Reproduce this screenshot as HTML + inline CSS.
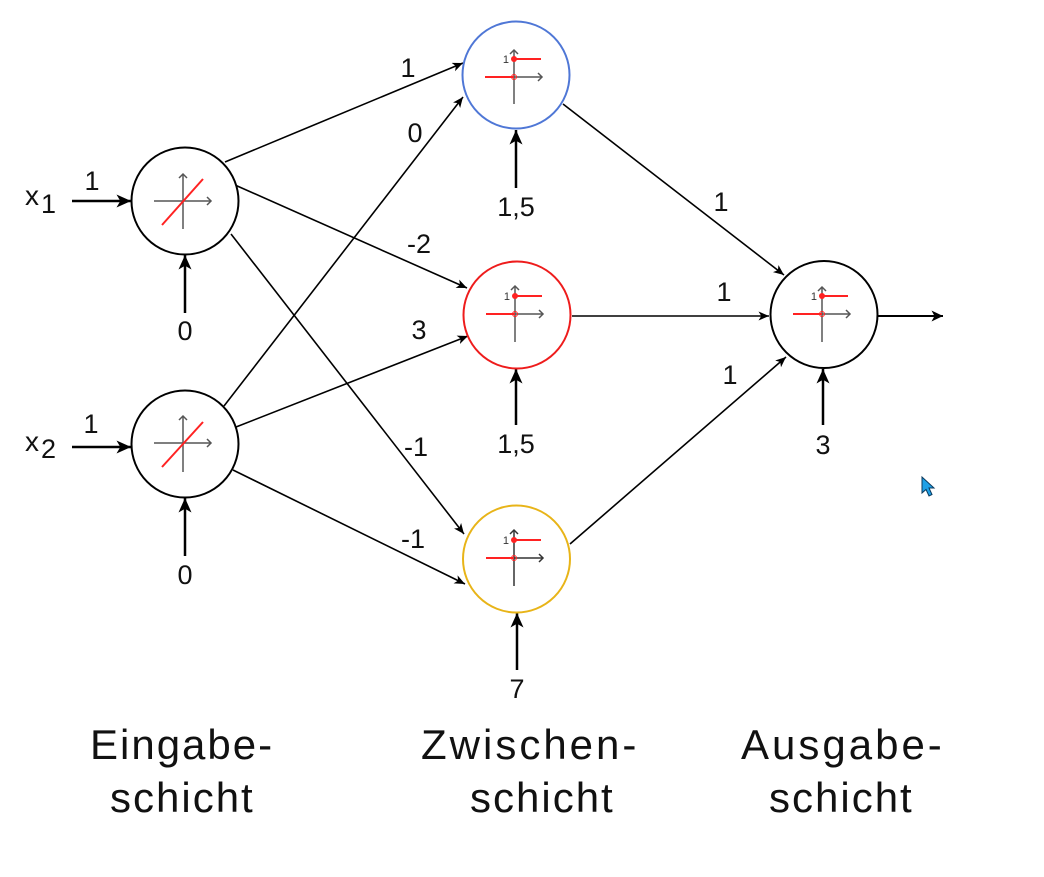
<!DOCTYPE html>
<html>
<head>
<meta charset="utf-8">
<style>
  html,body{margin:0;padding:0;background:#fff;}
  body{width:1044px;height:877px;overflow:hidden;}
  svg{display:block;}
  text{font-family:"Liberation Sans",Arial,sans-serif;fill:#111;}
  .lbl{font-size:27px;text-anchor:middle;}
  .big{font-size:42px;letter-spacing:2px;}
  .big3{font-size:42px;letter-spacing:3px;}
</style>
</head>
<body>
<svg width="1044" height="877" viewBox="0 0 1044 877" xmlns="http://www.w3.org/2000/svg">
  <defs>
    <marker id="ah" markerUnits="userSpaceOnUse" markerWidth="11" markerHeight="10" refX="10.5" refY="4.5" orient="auto">
      <path d="M0,0 L10.5,4.5 L0,9 L2.8,4.5 Z" fill="#000"/>
    </marker>
    <marker id="ahB" markerUnits="userSpaceOnUse" markerWidth="15" markerHeight="14" refX="14.5" refY="6.5" orient="auto">
      <path d="M0,0 L14.5,6.5 L0,13 L3.8,6.5 Z" fill="#000"/>
    </marker>
    <marker id="ahO" markerUnits="userSpaceOnUse" markerWidth="12" markerHeight="12" refX="11.5" refY="5.5" orient="auto">
      <path d="M0,0 L11.5,5.5 L0,11 L3,5.5 Z" fill="#000"/>
    </marker>
  </defs>

  <!-- connections -->
  <g stroke="#000" stroke-width="1.6" fill="none">
    <line x1="225" y1="162" x2="463" y2="63" marker-end="url(#ah)"/>
    <line x1="224" y1="406" x2="463" y2="97" marker-end="url(#ah)"/>
    <line x1="235" y1="185" x2="467" y2="288" marker-end="url(#ah)"/>
    <line x1="236" y1="427" x2="468" y2="336" marker-end="url(#ah)"/>
    <line x1="231" y1="234" x2="464" y2="534" marker-end="url(#ah)"/>
    <line x1="233" y1="470" x2="465" y2="584" marker-end="url(#ah)"/>
    <line x1="563" y1="104" x2="784" y2="275" marker-end="url(#ah)"/>
    <line x1="572" y1="316" x2="769" y2="316" marker-end="url(#ah)"/>
    <line x1="570" y1="544" x2="786" y2="357" marker-end="url(#ah)"/>
  </g>

  <!-- input / bias arrows -->
  <g stroke="#000" stroke-width="2.5" fill="none">
    <line x1="72" y1="201" x2="131" y2="201" marker-end="url(#ahB)"/>
    <line x1="72" y1="447" x2="131" y2="447" marker-end="url(#ahB)"/>
    <line x1="185" y1="313" x2="185" y2="255" marker-end="url(#ahB)"/>
    <line x1="185" y1="556" x2="185" y2="498" marker-end="url(#ahB)"/>
    <line x1="516" y1="188" x2="516" y2="130" marker-end="url(#ahB)"/>
    <line x1="516" y1="425" x2="516" y2="369" marker-end="url(#ahB)"/>
    <line x1="517" y1="670" x2="517" y2="613" marker-end="url(#ahB)"/>
    <line x1="823" y1="425" x2="823" y2="369" marker-end="url(#ahB)"/>
  </g>
  <line x1="878" y1="316" x2="943" y2="316" stroke="#000" stroke-width="2" marker-end="url(#ahO)"/>

  <!-- nodes -->
  <g fill="#fff" stroke-width="2">
    <circle cx="185" cy="201" r="53.5" stroke="#000"/>
    <circle cx="185" cy="444" r="53.5" stroke="#000"/>
    <circle cx="516" cy="75" r="53.5" stroke="#4f77d6"/>
    <circle cx="517" cy="315" r="53.5" stroke="#ee1c1c"/>
    <circle cx="516.5" cy="559" r="53.5" stroke="#e8b418"/>
    <circle cx="824" cy="314.5" r="53.5" stroke="#000"/>
  </g>

  <!-- linear icons -->
  <g transform="translate(185,202)">
    <g stroke="#555" stroke-width="1.5" fill="none">
      <line x1="-31" y1="-1" x2="26" y2="-1"/>
      <polyline points="22,-5 26,-1 22,3"/>
      <line x1="-2" y1="27" x2="-2" y2="-28"/>
      <polyline points="-6,-24 -2,-28 2,-24"/>
    </g>
    <line x1="-23" y1="23" x2="18" y2="-23" stroke="#f22" stroke-width="2"/>
  </g>
  <g transform="translate(185,444)">
    <g stroke="#555" stroke-width="1.5" fill="none">
      <line x1="-31" y1="-1" x2="26" y2="-1"/>
      <polyline points="22,-5 26,-1 22,3"/>
      <line x1="-2" y1="28" x2="-2" y2="-28"/>
      <polyline points="-6,-24 -2,-28 2,-24"/>
    </g>
    <line x1="-23" y1="23" x2="18" y2="-22" stroke="#f22" stroke-width="2"/>
  </g>

  <!-- step icons -->
  <g transform="translate(516,77)">
    <g stroke="#555" stroke-width="1.5" fill="none">
      <line x1="-2" y1="27" x2="-2" y2="-27"/>
      <polyline points="-6,-23 -2,-27 2,-23"/>
      <line x1="-2" y1="0" x2="26" y2="0"/>
      <polyline points="22,-4 26,0 22,4"/>
    </g>
    <line x1="-31" y1="0" x2="-2" y2="0" stroke="#f22" stroke-width="2"/>
    <line x1="-2" y1="-18" x2="25" y2="-18" stroke="#f22" stroke-width="2"/>
    <circle cx="-2" cy="-18" r="3" fill="#f22"/>
    <circle cx="-2" cy="0" r="2.5" fill="none" stroke="#f22" stroke-width="1"/>
    <text x="-7" y="-14" font-size="11" text-anchor="end" style="fill:#333">1</text>
  </g>
  <g transform="translate(517,314)">
    <g stroke="#555" stroke-width="1.5" fill="none">
      <line x1="-2" y1="28" x2="-2" y2="-28"/>
      <polyline points="-6,-24 -2,-28 2,-24"/>
      <line x1="-2" y1="0" x2="26" y2="0"/>
      <polyline points="22,-4 26,0 22,4"/>
    </g>
    <line x1="-31" y1="0" x2="-2" y2="0" stroke="#f22" stroke-width="2"/>
    <line x1="-2" y1="-18" x2="25" y2="-18" stroke="#f22" stroke-width="2"/>
    <circle cx="-2" cy="-18" r="3" fill="#f22"/>
    <circle cx="-2" cy="0" r="2.5" fill="none" stroke="#f22" stroke-width="1"/>
    <text x="-7" y="-14" font-size="11" text-anchor="end" style="fill:#333">1</text>
  </g>
  <g transform="translate(516,558)">
    <g stroke="#333" stroke-width="1.5" fill="none">
      <line x1="-2" y1="28" x2="-2" y2="-28"/>
      <polyline points="-6,-24 -2,-28 2,-24"/>
      <line x1="-2" y1="0" x2="27" y2="0"/>
      <polyline points="23,-4 27,0 23,4"/>
    </g>
    <line x1="-30" y1="0" x2="-2" y2="0" stroke="#f22" stroke-width="2"/>
    <line x1="-2" y1="-18" x2="25" y2="-18" stroke="#f22" stroke-width="2"/>
    <circle cx="-2" cy="-18" r="3" fill="#f22"/>
    <circle cx="-2" cy="0" r="2.5" fill="none" stroke="#f22" stroke-width="1"/>
    <text x="-7" y="-14" font-size="11" text-anchor="end" style="fill:#333">1</text>
  </g>
  <g transform="translate(824,314)">
    <g stroke="#555" stroke-width="1.5" fill="none">
      <line x1="-2" y1="28" x2="-2" y2="-27"/>
      <polyline points="-6,-23 -2,-27 2,-23"/>
      <line x1="-2" y1="0" x2="26" y2="0"/>
      <polyline points="22,-4 26,0 22,4"/>
    </g>
    <line x1="-31" y1="0" x2="-2" y2="0" stroke="#f22" stroke-width="2"/>
    <line x1="-2" y1="-18" x2="24" y2="-18" stroke="#f22" stroke-width="2"/>
    <circle cx="-2" cy="-18" r="3" fill="#f22"/>
    <circle cx="-2" cy="0" r="2.5" fill="none" stroke="#f22" stroke-width="1"/>
    <text x="-7" y="-14" font-size="11" text-anchor="end" style="fill:#333">1</text>
  </g>

  <!-- input labels -->
  <text x="25" y="205" font-size="28">x</text>
  <text x="41" y="213" font-size="27">1</text>
  <text x="25" y="451" font-size="28">x</text>
  <text x="41" y="458" font-size="27">2</text>

  <!-- weight / bias labels -->
  <text class="lbl" x="92" y="190">1</text>
  <text class="lbl" x="91" y="433">1</text>
  <text class="lbl" x="185" y="340">0</text>
  <text class="lbl" x="185" y="584">0</text>
  <text class="lbl" x="516" y="216">1,5</text>
  <text class="lbl" x="516" y="453">1,5</text>
  <text class="lbl" x="517" y="698">7</text>
  <text class="lbl" x="823" y="454">3</text>

  <text class="lbl" x="408" y="77">1</text>
  <text class="lbl" x="415" y="142">0</text>
  <text class="lbl" x="419" y="253">-2</text>
  <text class="lbl" x="419" y="339">3</text>
  <text class="lbl" x="416" y="456">-1</text>
  <text class="lbl" x="413" y="548">-1</text>
  <text class="lbl" x="721" y="211">1</text>
  <text class="lbl" x="724" y="301">1</text>
  <text class="lbl" x="730" y="384">1</text>

  <!-- layer captions -->
  <text class="big" x="90" y="759">Eingabe-</text>
  <text class="big" x="110" y="812">schicht</text>
  <text class="big3" x="421" y="759">Zwischen-</text>
  <text class="big" x="470" y="812">schicht</text>
  <text class="big3" x="741" y="759">Ausgabe-</text>
  <text class="big" x="769" y="812">schicht</text>

  <!-- mouse cursor -->
  <polygon points="922,477 922,493 926,489.5 929,496 932,494.5 929,488 934,488" fill="#1ea0e6" stroke="#0b3a5e" stroke-width="1"/>
</svg>
</body>
</html>
